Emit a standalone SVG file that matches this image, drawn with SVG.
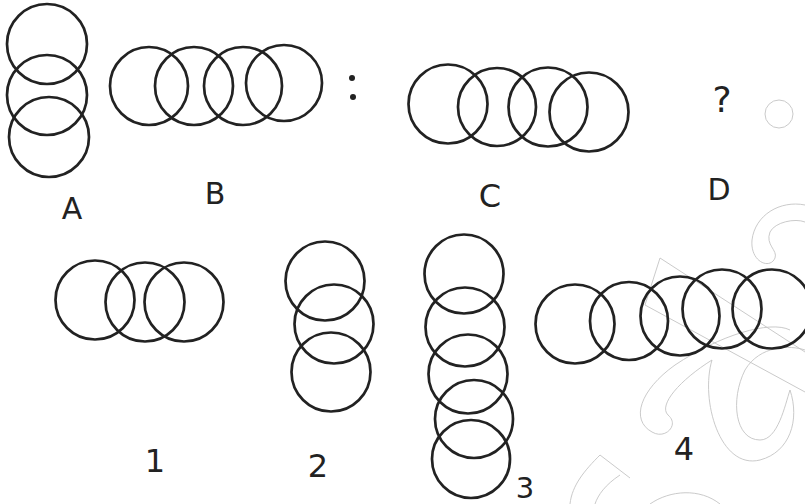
<svg xmlns="http://www.w3.org/2000/svg" width="805" height="504" viewBox="0 0 805 504">
<style>
.c{fill:none;stroke:#222;stroke-width:2.7}
.t{font-family:"DejaVu Sans","Liberation Sans",sans-serif;fill:#222;font-weight:400;text-anchor:middle}
.w{fill:none;stroke:#c4c4c4;stroke-width:0.9}
</style>
<rect width="805" height="504" fill="#fff"/>
<g id="watermark">
<circle class="w" cx="779" cy="114" r="14"/>
<path class="w" d="M660,258 L805,352 M645,305 L660,258 M645,305 L805,392"/>
<path class="w" d="M805,205 C780,200 755,215 752,240 C750,262 770,270 775,258 C778,250 765,245 770,232 C775,222 795,218 805,222"/>
<path class="w" d="M790,330 C770,320 720,335 675,365 C640,390 630,420 652,432 C665,440 680,425 668,415 C658,405 680,380 712,360 C700,400 720,470 760,460 C790,452 800,420 790,390 C785,405 778,440 760,440 C735,440 730,400 745,370 C760,345 790,345 805,350"/>
<path class="w" d="M600,455 C585,470 572,485 570,504 M620,475 C605,485 598,495 595,504 M600,455 L630,478"/>
<path class="w" d="M650,504 C670,490 700,488 720,504"/>
</g>
<g id="A">
<circle class="c" cx="47" cy="44" r="40"/>
<circle class="c" cx="47" cy="95" r="40"/>
<circle class="c" cx="49" cy="137" r="40"/>
<text class="t" x="72" y="219" font-size="30">A</text>
</g>
<g id="B">
<circle class="c" cx="149" cy="86" r="39"/>
<circle class="c" cx="194" cy="86" r="39"/>
<circle class="c" cx="243" cy="86" r="39"/>
<circle class="c" cx="284" cy="83" r="38"/>
<text class="t" x="215" y="204" font-size="30">B</text>
</g>
<g id="colon">
<circle cx="352" cy="78" r="3" fill="#222"/>
<circle cx="353" cy="97" r="3" fill="#222"/>
</g>
<g id="C">
<circle class="c" cx="448" cy="104" r="39.5"/>
<circle class="c" cx="497" cy="107" r="39"/>
<circle class="c" cx="548" cy="107" r="39.5"/>
<circle class="c" cx="589" cy="112" r="39.5"/>
<text class="t" x="490" y="207" font-size="32">C</text>
</g>
<g id="D">
<text class="t" x="722" y="112" font-size="36">?</text>
<text class="t" x="719" y="200" font-size="30">D</text>
</g>
<g id="opt1">
<circle class="c" cx="95" cy="300" r="39.5"/>
<circle class="c" cx="145" cy="302" r="39.5"/>
<circle class="c" cx="184" cy="302" r="39.5"/>
<text class="t" x="155" y="472" font-size="32">1</text>
</g>
<g id="opt2">
<circle class="c" cx="325" cy="281" r="39.5"/>
<circle class="c" cx="334" cy="324" r="39.5"/>
<circle class="c" cx="331" cy="372" r="39.5" stroke-width="3.3"/>
<text class="t" x="318" y="477" font-size="32">2</text>
</g>
<g id="opt3">
<circle class="c" cx="464" cy="274" r="39.5"/>
<circle class="c" cx="465" cy="327" r="39.5"/>
<circle class="c" cx="468" cy="374" r="39.5"/>
<circle class="c" cx="474" cy="419" r="39"/>
<circle class="c" cx="471" cy="459" r="39"/>
<text class="t" x="525" y="498" font-size="29">3</text>
</g>
<g id="opt4">
<circle class="c" cx="575" cy="324" r="39.5"/>
<circle class="c" cx="629" cy="321" r="39"/>
<circle class="c" cx="680" cy="316" r="39.5"/>
<circle class="c" cx="722" cy="309" r="39.5"/>
<circle class="c" cx="772" cy="309" r="39.5"/>
<text class="t" x="684" y="460" font-size="32">4</text>
</g>
</svg>
